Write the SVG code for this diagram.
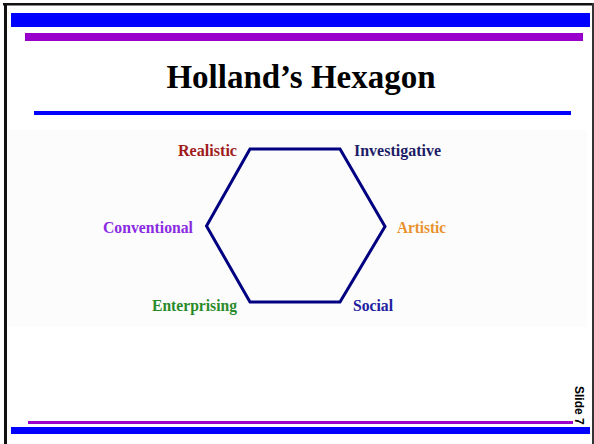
<svg xmlns="http://www.w3.org/2000/svg" width="594" height="444" viewBox="0 0 594 444">
<style>
.lbl{font-family:"Liberation Serif","Times New Roman",serif;font-weight:bold;font-size:16px}
.title{font-family:"Liberation Serif","Times New Roman",serif;font-weight:bold;font-size:33px}
.slide{font-family:"Liberation Sans",Arial,sans-serif;font-weight:bold;font-size:12px}
</style>
<rect width="594" height="444" fill="#ffffff"/>
<g id="frame">
<rect x="3" y="3" width="591" height="2.5" fill="#111"/>
<rect x="4" y="3" width="3" height="441" fill="#111"/>
<rect x="592" y="3" width="2" height="441" fill="#333"/>
</g>
<g id="bars">
<rect x="11" y="13" width="579" height="14" fill="#0000ff"/>
<rect x="25" y="33" width="558" height="8" fill="#9900cc"/>
<rect x="34" y="111" width="537" height="4" fill="#0000ff"/>
<rect x="28" y="421" width="545" height="3" fill="#9900cc"/>
<rect x="11" y="427" width="579" height="7" fill="#0000ff"/>
</g>
<text id="title" class="title" x="301" y="88" text-anchor="middle">Holland’s Hexagon</text>
<rect x="8" y="130" width="579" height="197" fill="#fcfcfc"/>
<g id="connectors">
<polygon points="250,149 340,149 385,226.5 340,302 250,302 206.5,226" fill="none" stroke="#000080" stroke-width="3" stroke-linejoin="miter"/>
</g>
<g id="realistic"><text class="lbl" x="178" y="156" fill="#a01c1c" textLength="59" lengthAdjust="spacingAndGlyphs">Realistic</text></g>
<g id="investigative"><text class="lbl" x="354" y="156" fill="#1c1c66" textLength="87" lengthAdjust="spacingAndGlyphs">Investigative</text></g>
<g id="conventional"><text class="lbl" x="103" y="233" fill="#8a2be2" textLength="90" lengthAdjust="spacingAndGlyphs">Conventional</text></g>
<g id="artistic"><text class="lbl" x="397" y="233" fill="#e8922e" textLength="49" lengthAdjust="spacingAndGlyphs">Artistic</text></g>
<g id="enterprising"><text class="lbl" x="152" y="311" fill="#2a8a2a" textLength="85" lengthAdjust="spacingAndGlyphs">Enterprising</text></g>
<g id="social"><text class="lbl" x="353" y="311" fill="#2020a0" textLength="40" lengthAdjust="spacingAndGlyphs">Social</text></g>
<text class="slide" transform="translate(575,386) rotate(90)">Slide 7</text>
</svg>
